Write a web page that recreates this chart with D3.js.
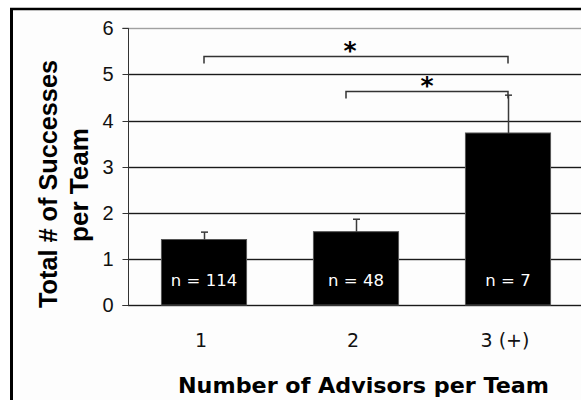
<!DOCTYPE html>
<html>
<head>
<meta charset="utf-8">
<script src="https://cdn.jsdelivr.net/npm/d3@7"></script>
<style>
  html, body { margin: 0; padding: 0; background: #ffffff; }
  svg { display: block; }
</style>
</head>
<body>
<svg id="chart" width="581" height="400"></svg>
<script>
// Advisors per team vs. mean successes per team
const categories = ["1", "2", "3 (+)"];
const means = [1.42, 1.59, 3.73];
const errorTops = [1.58, 1.86, 4.55];
const sampleLabels = ["n = 114", "n = 48", "n = 7"];
const yTicks = [0, 1, 2, 3, 4, 5, 6];
// significance brackets: pair of categories and the level of the bar
const bracketFrom = ["1", "2"];
const bracketTo = ["3 (+)", "3 (+)"];
const bracketLevels = [5.4, 4.65];
const bracketMarks = ["*", "*"];

const svg = d3.select("#chart");
const W = 581, H = 400;

// frame
svg.append("rect").attr("x", 0).attr("y", 0).attr("width", W).attr("height", H).attr("fill", "#ffffff");
svg.append("rect").attr("x", 13).attr("y", 10).attr("width", W).attr("height", H).attr("fill", "#fdfdfd");

const plot = { left: 128, right: 584, top: 28.3, bottom: 305 };

const x = d3.scaleBand().domain(categories)
  .range([plot.left, plot.right])
  .paddingInner(0.44).paddingOuter(0.22);
const y = d3.scaleLinear().domain([0, 6]).range([plot.bottom, plot.top]);
const yPix = v => Math.round(y(v)) + 0.5;

// horizontal gridlines
const grid = svg.append("g");
grid.selectAll("rect").data(yTicks).join("rect")
  .attr("x", plot.left).attr("width", W - plot.left)
  .attr("y", d => Math.round(y(d)) - 0.2).attr("height", 1.4)
  .attr("fill", d => d === 6 ? "#a0a0a0" : "#1a1a1a");

// y axis
const yAxis = d3.axisLeft(y).tickValues(yTicks).tickSize(6).tickPadding(9)
  .tickFormat(d3.format("d"));
const yg = svg.append("g").attr("transform", `translate(${plot.left + 0.5},0)`).call(yAxis);
yg.select(".domain").attr("stroke", "#333").attr("d", `M-6,${plot.top}H0V${plot.bottom + 0.5}H-6`);
yg.selectAll(".tick line").attr("stroke", "#333");
yg.selectAll(".tick text")
  .attr("font-family", "'Liberation Sans', Arial, sans-serif")
  .attr("font-size", 20).attr("fill", "#111");
yg.selectAll(".tick").attr("transform", d => `translate(0,${yPix(d)})`);

// bars
svg.append("g").selectAll("rect").data(categories).join("rect")
  .attr("x", d => x(d)).attr("width", x.bandwidth())
  .attr("y", (d, i) => y(means[i])).attr("height", (d, i) => y(0) - y(means[i]))
  .attr("fill", "#000").attr("stroke", "#555").attr("stroke-width", 1);

// error bars (upper)
const eg = svg.append("g").attr("stroke", "#3a3a3a").attr("stroke-width", 1.5);
categories.forEach((c, i) => {
  const cx = Math.round(x(c) + x.bandwidth() / 2) + 0.5;
  eg.append("line").attr("x1", cx).attr("x2", cx).attr("y1", y(means[i])).attr("y2", y(errorTops[i]));
  eg.append("line").attr("x1", cx - 3.5).attr("x2", cx + 3.5).attr("y1", y(errorTops[i])).attr("y2", y(errorTops[i]));
});

// sample size labels inside bars
svg.append("g").selectAll("text").data(categories).join("text")
  .attr("x", d => x(d) + x.bandwidth() / 2).attr("y", 286)
  .attr("text-anchor", "middle")
  .attr("font-family", "'DejaVu Sans', Tahoma, sans-serif")
  .attr("font-size", 16.5).attr("fill", "#ffffff")
  .text((d, i) => sampleLabels[i]);

// category labels
svg.append("g").selectAll("text").data(categories).join("text")
  .attr("x", d => x(d) + x.bandwidth() / 2 - 3).attr("y", 347)
  .attr("text-anchor", "middle")
  .attr("font-family", "'DejaVu Sans', Tahoma, sans-serif")
  .attr("font-size", 19).attr("fill", "#111")
  .text(d => d);

// significance brackets
const bg = svg.append("g");
bracketFrom.forEach((from, i) => {
  const x1 = x(from) + x.bandwidth() / 2 - (i === 1 ? 10 : 0);
  const x2 = x(bracketTo[i]) + x.bandwidth() / 2;
  const yl = yPix(bracketLevels[i]);
  bg.append("path")
    .attr("d", `M${x1},${yl + 7}V${yl}H${x2}V${yl + 7}`)
    .attr("fill", "none").attr("stroke", "#333").attr("stroke-width", 1.5);
  bg.append("text")
    .attr("x", (x1 + x2) / 2 - (i === 0 ? 6 : 0)).attr("y", yl + 2)
    .attr("text-anchor", "middle")
    .attr("font-family", "'DejaVu Sans', sans-serif")
    .attr("font-weight", "bold").attr("font-size", 25).attr("fill", "#000")
    .text(bracketMarks[i]);
});

// frame edges
svg.append("line").attr("x1", 11.5).attr("x2", 11.5).attr("y1", 8).attr("y2", H)
  .attr("stroke", "#000").attr("stroke-width", 3);
svg.append("line").attr("x1", 10).attr("x2", W).attr("y1", 9).attr("y2", 9)
  .attr("stroke", "#000").attr("stroke-width", 2.5);

// axis titles
svg.append("text")
  .attr("x", 363.5).attr("y", 393)
  .attr("text-anchor", "middle")
  .attr("font-family", "'DejaVu Sans', Tahoma, sans-serif")
  .attr("font-weight", "bold").attr("font-size", 21).attr("fill", "#000")
  .attr("textLength", 371).attr("lengthAdjust", "spacingAndGlyphs")
  .text("Number of Advisors per Team");

const yTitle = svg.append("g")
  .attr("font-family", "'Liberation Sans', Arial, sans-serif")
  .attr("font-weight", "bold").attr("font-size", 25).attr("fill", "#000")
  .attr("text-anchor", "middle");
yTitle.append("text")
  .attr("transform", "translate(57,184) rotate(-90)")
  .attr("textLength", 248).attr("lengthAdjust", "spacingAndGlyphs")
  .text("Total # of Successes");
yTitle.append("text")
  .attr("transform", "translate(88,185) rotate(-90)")
  .attr("textLength", 114).attr("lengthAdjust", "spacingAndGlyphs")
  .text("per Team");
</script>
</body>
</html>
